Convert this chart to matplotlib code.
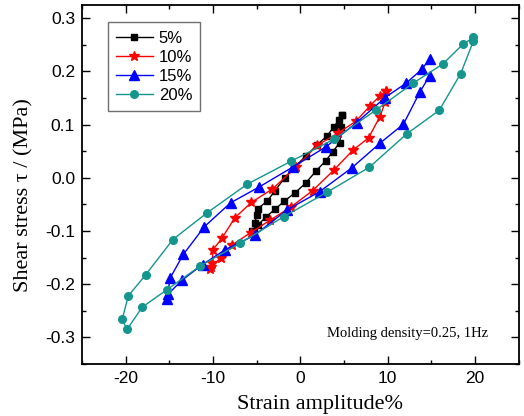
import matplotlib
matplotlib.use('Agg')
import matplotlib.pyplot as plt
from matplotlib.ticker import MultipleLocator

# hysteresis loops (strain %, shear stress MPa)
x_5 = [4.8, 4.4, 3.8, 3.0, 1.85, 0.7, -0.7, -1.8, -2.9, -3.8, -4.9, -5.0, -5.2, -5.3,
       -5.5, -4.9, -3.9, -2.9, -1.85, -0.6, 0.6, 1.8, 2.9, 3.7, 4.5, 4.7, 4.8]
y_5 = [0.119, 0.109, 0.095, 0.078, 0.061, 0.042, 0.020, 0.000, -0.024, -0.044, -0.058, -0.070, -0.085, -0.100,
       -0.100, -0.089, -0.073, -0.059, -0.044, -0.028, -0.010, 0.013, 0.032, 0.049, 0.066, 0.095, 0.119]

x_10 = [9.8, 9.1, 8.0, 6.4, 4.3, 1.9, -0.5, -3.2, -5.6, -7.5, -9.0, -10.0, -10.1, -10.3,
        -10.2, -9.1, -7.8, -5.7, -3.5, -1.1, 1.4, 3.8, 6.0, 7.8, 9.1, 9.7, 9.8]
y_10 = [0.164, 0.154, 0.136, 0.107, 0.084, 0.061, 0.020, -0.021, -0.046, -0.075, -0.114, -0.135, -0.160, -0.172,
        -0.168, -0.150, -0.126, -0.103, -0.080, -0.055, -0.024, 0.014, 0.052, 0.075, 0.115, 0.142, 0.164]

x_15 = [14.8, 13.9, 12.1, 9.7, 6.45, 2.9, -0.9, -4.7, -8.0, -11.0, -13.4, -14.9, -15.3,
        -15.1, -13.6, -11.2, -8.6, -5.25, -1.5, 2.2, 5.9, 9.1, 11.8, 13.7, 14.8]
y_15 = [0.224, 0.204, 0.178, 0.151, 0.104, 0.058, 0.020, -0.017, -0.047, -0.092, -0.144, -0.188, -0.228,
        -0.218, -0.193, -0.163, -0.135, -0.108, -0.060, -0.026, 0.019, 0.065, 0.101, 0.162, 0.192]

x_20 = [19.8, 18.6, 16.3, 12.9, 8.7, 3.9, -1.1, -6.1, -10.7, -14.6, -17.7, -19.7, -20.4, -19.85,
        -18.1, -15.25, -11.5, -6.9, -1.9, 3.06, 7.9, 12.2, 15.9, 18.35, 19.8]
y_20 = [0.264, 0.251, 0.214, 0.178, 0.128, 0.073, 0.031, -0.012, -0.066, -0.116, -0.182, -0.222, -0.266, -0.285,
        -0.243, -0.210, -0.166, -0.123, -0.073, -0.027, 0.020, 0.083, 0.127, 0.196, 0.257]

labels = ['5%', '10%', '15%', '20%']

fig = plt.figure(figsize=(5.24, 4.16), dpi=100)
ax = fig.add_axes([0.1565, 0.125, 0.8335, 0.863])

teal = '#14968e'
ax.plot(x_5, y_5, color='black', marker='s', ms=4.5, lw=1.0, label=labels[0])
ax.plot(x_10, y_10, color='red', marker='*', ms=7.5, lw=1.0, label=labels[1])
ax.plot(x_15, y_15, color='blue', marker='^', ms=6.5, lw=1.0, label=labels[2])
ax.plot(x_20, y_20, color=teal, marker='o', ms=5.5, lw=1.0, label=labels[3])

ax.set_xlim(-25, 25)
ax.set_ylim(-0.35, 0.325)
ax.xaxis.set_minor_locator(MultipleLocator(5))
ax.yaxis.set_minor_locator(MultipleLocator(0.05))
ax.set_xticks([-20, -10, 0, 10, 20])
ax.set_yticks([-0.3, -0.2, -0.1, 0.0, 0.1, 0.2, 0.3])
ax.set_yticklabels(['-0.3', '-0.2', '-0.1', '0.0', '0.1', '0.2', '0.3'])
ax.set_xticklabels(['-20', '-10', '0', '10', '20'])

ax.tick_params(which='both', direction='in', top=True, right=True, width=1.0)
ax.tick_params(which='major', length=6, labelsize=12.5, pad=5)
ax.tick_params(which='minor', length=3)
for lbl in ax.get_xticklabels() + ax.get_yticklabels():
    lbl.set_family('Liberation Sans')
for sp in ax.spines.values():
    sp.set_linewidth(1.3)

ax.set_xlabel('Strain amplitude%', family='Liberation Serif', fontsize=16)
ax.set_ylabel('Shear stress τ / (MPa)', family='Liberation Serif', fontsize=16)
ax.xaxis.set_label_coords(0.545, -0.085)
ax.yaxis.set_label_coords(-0.111, 0.47)

ax.text(0.56, 0.075, 'Molding density=0.25, 1Hz', transform=ax.transAxes,
        family='Liberation Serif', fontsize=10.5)

leg = ax.legend(loc='upper left', bbox_to_anchor=(0.04, 0.975), fancybox=False,
                prop={'family': 'Liberation Sans', 'size': 12}, handlelength=2.2,
                handletextpad=0.35, labelspacing=0.25, borderpad=0.5, framealpha=1)
leg.get_frame().set_edgecolor('#707070')
leg.get_frame().set_linewidth(1.0)

fig.savefig('out.png', dpi=100)
